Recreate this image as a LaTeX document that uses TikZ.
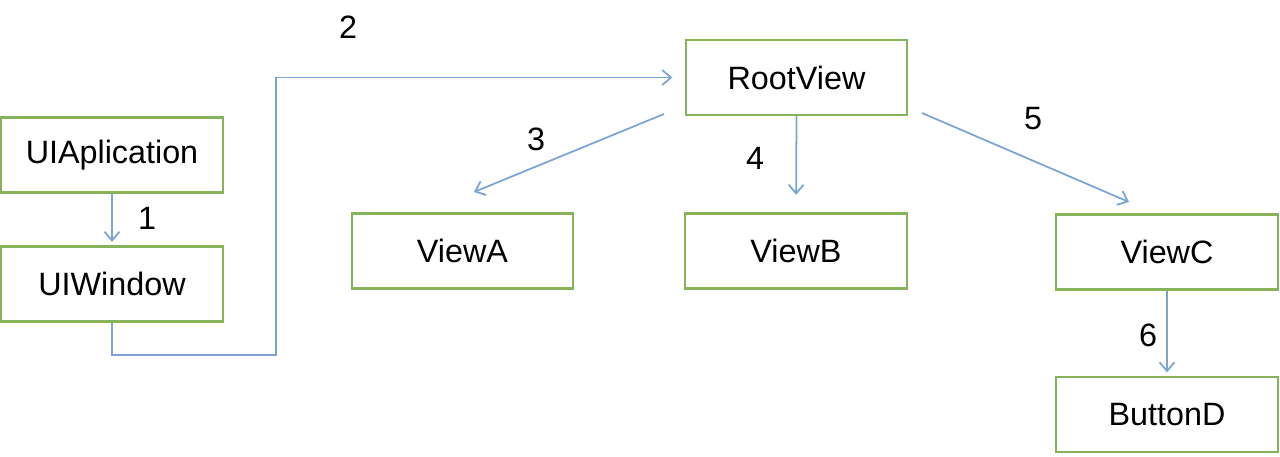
\documentclass[tikz,border=0pt]{standalone}
\usepackage{fontspec}
\setmainfont{Liberation Sans}
\usetikzlibrary{arrows.meta}
\definecolor{boxgreen}{RGB}{134,178,90}
\definecolor{linkblue}{RGB}{123,163,214}
\tikzset{
  viewbox/.style={draw=boxgreen,line width=1.3pt,minimum width=4.43cm,minimum height=1.5cm,inner sep=0pt,font=\fontsize{18.4}{20}\selectfont},
  link/.style={draw=linkblue,line width=1pt,-{Straight Barb[length=5pt,width=8.5pt]}},
  num/.style={font=\fontsize{18.4}{20}\selectfont}
}
\begin{document}
\begin{tikzpicture}[x=0.02cm,y=-0.02cm]
\useasboundingbox (0,0) rectangle (1280,456);
% boxes
\node[viewbox] (app) at (112,155) {UIAplication};
\node[viewbox] (win) at (112,284) {UIWindow};
\node[viewbox] (root) at (796.5,77.5) {RootView};
\node[viewbox] (viewa) at (462.5,251) {ViewA};
\node[viewbox] (viewb) at (796,251) {ViewB};
\node[viewbox] (viewc) at (1167,252) {ViewC};
\node[viewbox] (btnd) at (1167,414.5) {ButtonD};
% free ends
\coordinate (turn) at (276,355);
\coordinate (fromA) at (664,114);
\coordinate (toA) at (474,192);
\coordinate (fromC) at (922,113);
\coordinate (toC) at (1129,202);
% links
\draw[link,shorten >=2pt] (app) -- (win);
\draw[link,shorten >=7pt] (win.south) |- (turn) |- (root.west);
\draw[link] (fromA) -- (toA);
\draw[link,shorten >=10pt] (root.south) -- (viewb.north);
\draw[link] (fromC) -- (toC);
\draw[link,shorten >=2pt] (viewc) -- (btnd);
% numbers
\node[num] (n1) at (147,218) {1};
\node[num] (n2) at (348,27) {2};
\node[num] (n3) at (536,139) {3};
\node[num] (n4) at (755,158) {4};
\node[num] (n5) at (1033,119) {5};
\node[num] (n6) at (1148,335) {6};
\end{tikzpicture}
\end{document}
